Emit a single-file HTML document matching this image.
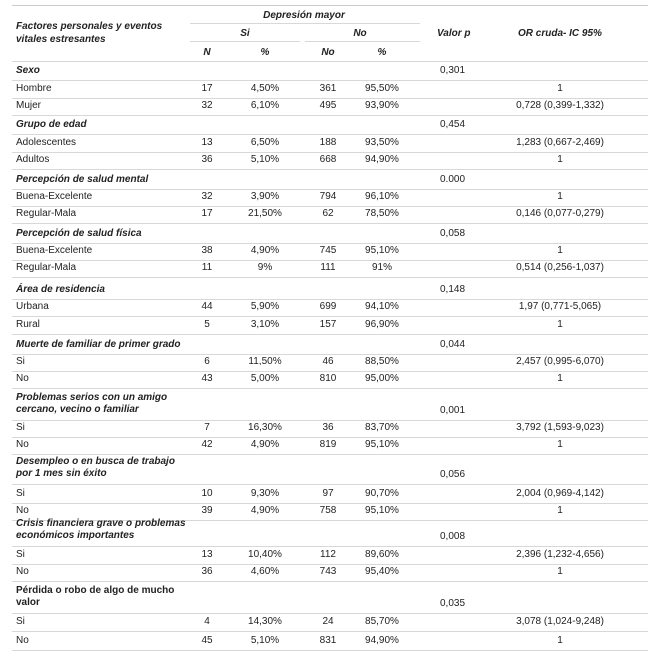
<!DOCTYPE html>
<html><head><meta charset="utf-8"><style>
body{margin:0;background:#fff;width:665px;height:665px;position:relative;overflow:hidden;font-family:"Liberation Sans",sans-serif;color:#222}
.t{position:absolute;font-size:10px;white-space:nowrap;line-height:12px}
.b{font-weight:bold}.i{font-style:italic}
.l{position:absolute;height:1px;background:#d8d8d8}
</style></head><body>
<div class="l" style="left:12px;width:636px;top:5px;background:#ccc"></div>
<div class="t b i" style="left:189px;width:230px;text-align:center;top:10px">Depresión mayor</div>
<div class="l" style="left:190px;width:230px;top:23px"></div>
<div class="t b i" style="left:16px;top:20px;line-height:13px">Factores personales y eventos<br>vitales estresantes</div>
<div class="t b i" style="left:190px;width:110px;text-align:center;top:28px">Si</div>
<div class="t b i" style="left:305px;width:110px;text-align:center;top:28px">No</div>
<div class="l" style="left:190px;width:110px;top:41px"></div>
<div class="l" style="left:305px;width:115px;top:41px"></div>
<div class="t b i" style="left:437px;top:28px">Valor p</div>
<div class="t b i" style="left:500px;width:120px;text-align:center;top:28px">OR cruda- IC 95%</div>
<div class="t b i" style="left:197px;width:20px;text-align:center;top:47px">N</div>
<div class="t b i" style="left:255px;width:20px;text-align:center;top:47px">%</div>
<div class="t b i" style="left:313px;width:30px;text-align:center;top:47px">No</div>
<div class="t b i" style="left:372px;width:20px;text-align:center;top:47px">%</div>
<div class="l" style="left:12px;width:636px;top:61px"></div>
<script>
const rows=[
["h","Sexo",71,"0,301"],
["r","Hombre",89,"17","4,50%","361","95,50%","1"],
["r","Mujer",106,"32","6,10%","495","93,90%","0,728 (0,399-1,332)"],
["h","Grupo de edad",125,"0,454"],
["r","Adolescentes",143,"13","6,50%","188","93,50%","1,283 (0,667-2,469)"],
["r","Adultos",160,"36","5,10%","668","94,90%","1"],
["h","Percepción de salud mental",180,"0.000"],
["r","Buena-Excelente",197,"32","3,90%","794","96,10%","1"],
["r","Regular-Mala",214,"17","21,50%","62","78,50%","0,146 (0,077-0,279)"],
["h","Percepción de salud física",234,"0,058"],
["r","Buena-Excelente",251,"38","4,90%","745","95,10%","1"],
["r","Regular-Mala",268,"11","9%","111","91%","0,514 (0,256-1,037)"],
["h","Área de residencia",290,"0,148"],
["r","Urbana",307,"44","5,90%","699","94,10%","1,97 (0,771-5,065)"],
["r","Rural",325,"5","3,10%","157","96,90%","1"],
["h","Muerte de familiar de primer grado",345,"0,044"],
["r","Si",362,"6","11,50%","46","88,50%","2,457 (0,995-6,070)"],
["r","No",379,"43","5,00%","810","95,00%","1"],
["h2","Problemas serios con un amigo<br>cercano, vecino o familiar",404,"0,001"],
["r","Si",428,"7","16,30%","36","83,70%","3,792 (1,593-9,023)"],
["r","No",445,"42","4,90%","819","95,10%","1"],
["h2","Desempleo o en busca de trabajo<br>por 1 mes sin éxito",468,"0,056"],
["r","Si",494,"10","9,30%","97","90,70%","2,004 (0,969-4,142)"],
["r","No",511,"39","4,90%","758","95,10%","1"],
["h2","Crisis financiera grave o problemas<br>económicos importantes",530,"0,008"],
["r","Si",555,"13","10,40%","112","89,60%","2,396 (1,232-4,656)"],
["r","No",572,"36","4,60%","743","95,40%","1"],
["h3","Pérdida o robo de algo de mucho<br>valor",597,"0,035"],
["r","Si",622,"4","14,30%","24","85,70%","3,078 (1,024-9,248)"],
["r","No",641,"45","5,10%","831","94,90%","1"]
];
function add(txt,x,y,w,align,cls,name){
  const d=document.createElement('div');
  d.className='t '+(cls||'');
  d.innerHTML=txt;
  d.style.left=x+'px';d.style.top=y+'px';
  if(w){d.style.width=w+'px';d.style.textAlign=align;}
  
  
  document.body.appendChild(d);
}
function line(y){
  const l=document.createElement('div');
  l.className='l';l.style.left='12px';l.style.width='636px';l.style.top=y+'px';
  
  
  document.body.appendChild(l);
}
rows.forEach((r,i)=>{
  const y=r[2];
  let bottom=y;
  if(r[0]==='r'){
    add(r[1],16,y-6,0,'','', 'row-label');
    add(r[3],187,y-6,40,'center','','cell-n');
    add(r[4],240,y-6,50,'center','','cell-pct-si');
    add(r[5],308,y-6,40,'center','','cell-no');
    add(r[6],357,y-6,50,'center','','cell-pct-no');
    add(r[7],490,y-6,140,'center','','cell-or');
  } else {
    const two=r[0]!=='h';
    add(r[1],16,two?y-12:y-6,0,'',r[0]==='h3'?'b':'b i','group-label');
    add(r[3],440,two?y+1:y-6,0,'','','cell-p');
    if(two) bottom=y+7;
  }
  line(bottom+9);
});
</script>
</body></html>
